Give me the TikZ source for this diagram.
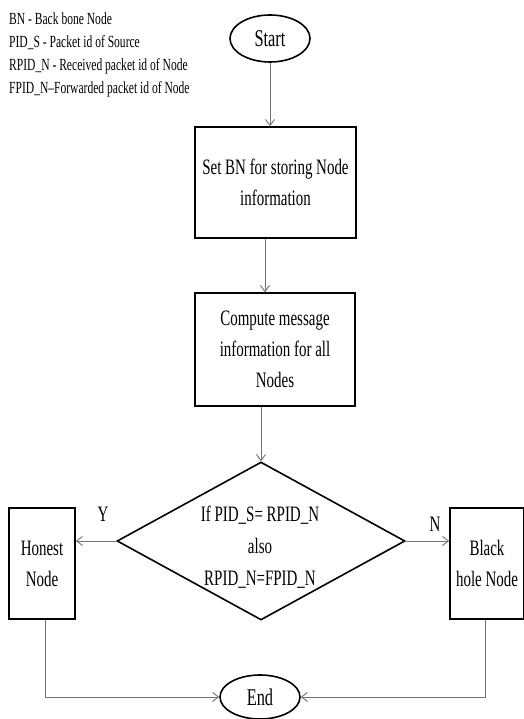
\documentclass[tikz,border=0pt]{standalone}
\usepackage{fontspec}
\setmainfont[FakeStretch=0.68]{Liberation Serif}
\usetikzlibrary{shapes.geometric,arrows.meta}
\begin{document}
\begin{tikzpicture}[x=1pt,y=-1pt,
  box/.style={draw,line width=1.6pt,inner sep=0pt,align=center,font=\fontsize{22}{31}\selectfont},
  term/.style={draw,ellipse,line width=1.6pt,inner sep=0pt,font=\fontsize{24}{28}\selectfont},
  conn/.style={draw=black!55,line width=0.9pt,-{Straight Barb[length=6pt,width=9pt]}},
  lab/.style={font=\fontsize{22}{26}\selectfont,inner sep=0pt},
  legend/.style={anchor=base west,inner sep=0pt,font=\fontsize{17}{23}\selectfont}]
\useasboundingbox (0,0) rectangle (523,719);
\node[legend] (leg1) at (9,25) {BN - Back bone Node};
\node[legend] (leg2) at (9,48) {PID\_S - Packet id of Source};
\node[legend] (leg3) at (9,71) {RPID\_N - Received packet id of Node};
\node[legend] (leg4) at (9,94) {FPID\_N--Forwarded packet id of Node};
\node[term,minimum width=80pt,minimum height=47pt] (start) at (270,38.5) {Start};
\node[box,minimum width=161pt,minimum height=111pt] (b1) at (275.5,182.5) {Set BN for storing Node\\information};
\node[box,minimum width=160pt,minimum height=113pt] (b2) at (275,349.5) {Compute message\\information for all\\Nodes};
\node[draw,diamond,line width=1.6pt,minimum width=288pt,minimum height=158pt,inner sep=0pt] (dia) at (261,541) {};
\node[align=center,inner sep=0pt,font=\fontsize{22}{32}\selectfont] (dtext) at (260,547) {If PID\_S= RPID\_N\\also\\RPID\_N=FPID\_N};
\node[box,minimum width=66pt,minimum height=111pt] (honest) at (42,563.5) {Honest\\Node};
\node[box,minimum width=74pt,minimum height=111pt] (black) at (487,563.5) {Black\\hole Node};
\node[term,minimum width=80pt,minimum height=44pt] (end) at (260,697) {End};
\node[lab] (ylab) at (103,514) {Y};
\node[lab] (nlab) at (435,524) {N};
\draw[conn] (start.south) -- (start.south |- b1.north);
\draw[conn] ([xshift=-10.5pt]b1.south) -- ([xshift=-10.5pt]b1.south |- b2.north);
\draw[conn] (dia.north |- b2.south) -- (dia.north);
\draw[conn] (dia.west) -- (dia.west -| honest.east);
\draw[conn] (dia.east) -- (dia.east -| black.west);
\draw[conn] ([xshift=3pt]honest.south) |- (end.west);
\draw[conn] ([xshift=-2pt]black.south) |- (end.east);
\end{tikzpicture}
\end{document}
